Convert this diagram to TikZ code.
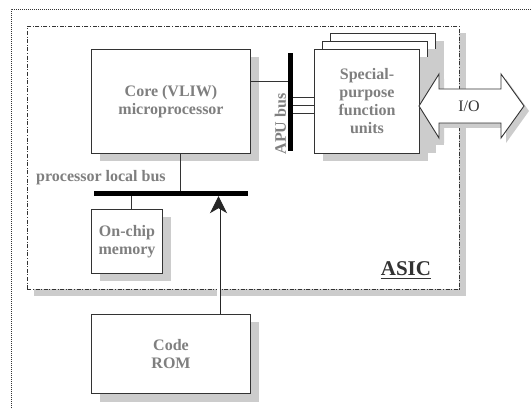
\documentclass[tikz,border=0pt]{standalone}
\usepackage{fontspec}
\setmainfont{Liberation Serif}
\usetikzlibrary{arrows.meta,shadows,calc}
\definecolor{txt}{HTML}{7F7F7F}
\definecolor{edge}{HTML}{333333}
\definecolor{shd}{HTML}{CCCCCC}
\begin{document}
\begin{tikzpicture}[x=1pt,y=-1pt,
  shad/.style={drop shadow={shadow xshift=8pt,shadow yshift=-8pt,fill=shd,opacity=1}},
  box/.style={draw=edge,line width=1pt,fill=white,inner sep=0pt,align=center,
    font=\fontsize{16}{18}\selectfont\bfseries,text=txt,anchor=north west,shad},
  busbar/.style={fill=black,inner sep=0pt},
  conn/.style={draw=edge,line width=0.9pt},
  lbl/.style={font=\fontsize{16}{18}\selectfont\bfseries,text=txt,inner sep=0pt}]
\useasboundingbox (0,0) rectangle (531,409);
% outer dotted frame (right and bottom edges fall outside the picture)
\draw[edge,line width=0.7pt,dash pattern=on 0.8pt off 1.2pt] (531,9) -- (11,9) -- (11,409);
% ASIC region
\node[draw=edge,line width=0.9pt,dash pattern=on 4pt off 1.6pt on 1pt off 1.6pt,fill=white,
  drop shadow={shadow xshift=7pt,shadow yshift=-7pt,fill=shd,opacity=1},
  minimum width=432pt,minimum height=263pt,anchor=north west,inner sep=0pt] (asic) at (27,26) {};
% blocks
\node[box,minimum width=159pt,minimum height=104pt] (core) at (91,49) {Core (VLIW)\\microprocessor};
\node[box,minimum width=105pt,minimum height=104pt] (spfu3) at (330,33) {};
\node[box,minimum width=105pt,minimum height=104pt] (spfu2) at (322,41) {};
\node[box,minimum width=105pt,minimum height=104pt] (spfu) at (314,49) {Special-\\purpose\\function\\units};
\node[box,minimum width=71pt,minimum height=64pt] (mem) at (91,209) {On-chip\\memory};
\node[box,minimum width=159pt,minimum height=79pt] (rom) at (91,314) {Code\\ROM};
% buses
\node[busbar,minimum width=154pt,minimum height=5pt] (plb) at (171,193.5) {};
\node[busbar,minimum width=4.5pt,minimum height=98pt] (apu) at (290.5,102) {};
% connectors
\draw[conn] ([yshift=20pt]core.east) -- ([yshift=20pt]core.east -| apu.west);
\draw[conn] ([yshift=4pt]spfu.west -| apu.east) -- ([yshift=4pt]spfu.west);
\draw[conn] ([yshift=-4pt]spfu.west -| apu.east) -- ([yshift=-4pt]spfu.west);
\draw[conn] ([yshift=-12pt]spfu.west -| apu.east) -- ([yshift=-12pt]spfu.west);
\draw[conn] ([xshift=9pt]core.south) -- ([xshift=9pt]core.south |- plb.north);
\draw[conn] ([xshift=4.5pt]mem.north) -- ([xshift=4.5pt]mem.north |- plb.south);
\draw[draw=black!85,line width=0.9pt,double=white,double distance=2.2pt,
  -{Stealth[length=17pt,width=17pt,inset=5pt,fill=black!85]}]
  ([xshift=47.5pt]rom.north) -- ([xshift=47.5pt]rom.north |- plb.south);
% I/O double arrow
\fill[shd,shift={(5pt,-5pt)}] (419,106) -- (439,74) -- (439,89) -- (501,89) -- (501,74) -- (524,106)
  -- (501,138) -- (501,123) -- (439,123) -- (439,138) -- cycle;
\draw[edge,line width=0.9pt,fill=white,line join=miter] (419,106) -- (439,74) -- (439,89) -- (501,89) -- (501,74) -- (524,106)
  -- (501,138) -- (501,123) -- (439,123) -- (439,138) -- cycle;
\node[font=\fontsize{16}{18}\selectfont,text=edge] (io) at (469,106) {I/O};
% labels
\node[lbl,rotate=90] (apulbl) at (280.5,124) {APU bus};
\node[lbl,anchor=base west] (plblbl) at (36,181.5) {processor local bus};
\node[font=\fontsize{21}{21}\selectfont\bfseries,text=edge,inner sep=0pt,anchor=base] (asiclbl) at (406,275.5) {ASIC};
\draw[edge,line width=1.8pt] ([yshift=-3pt]asiclbl.base west) -- ([yshift=-3pt]asiclbl.base east);
\end{tikzpicture}
\end{document}
